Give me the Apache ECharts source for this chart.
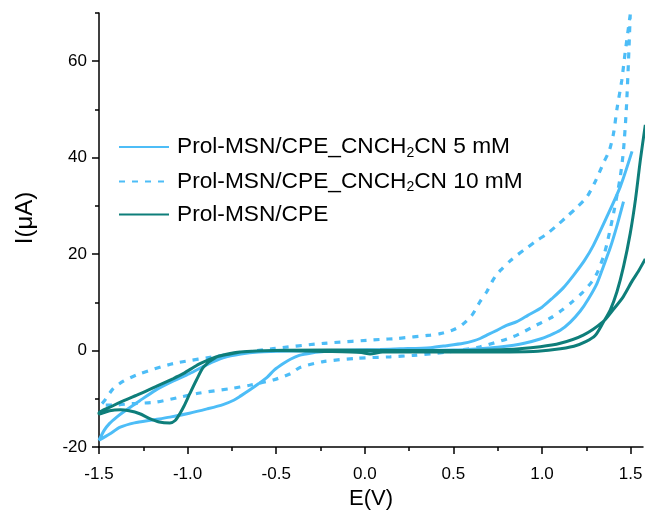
<!DOCTYPE html>
<html>
<head>
<meta charset="utf-8">
<script src="https://cdn.jsdelivr.net/npm/echarts@6/dist/echarts.min.js"></script>
<style>html,body{margin:0;padding:0;background:#fff}#c{width:648px;height:516px}</style>
</head>
<body>
<div id="c"></div>
<script>
// Series names
const seriesNames = ['Prol-MSN/CPE_CNCH2CN 5 mM', 'Prol-MSN/CPE_CNCH2CN 10 mM', 'Prol-MSN/CPE'];

// Tick labels
const xTicks = [-1.5, -1.0, -0.5, 0.0, 0.5, 1.0, 1.5];
const xMinorTicks = [-1.25, -0.75, -0.25, 0.25, 0.75, 1.25];
const yTicks = [-20, 0, 20, 40, 60];
const yMinorTicks = [-10, 10, 30, 50, 70];

// CV curves: [E (V), I (uA)]
const cv5mM = [
  [1.46,30.9],[1.42,25.5],[1.385,21.3],[1.347,17.5],[1.31,13.9],[1.26,10.6],[1.216,8.2],[1.16,5.9],
  [1.103,4.2],[1.04,3.1],[0.99,2.4],[0.9,1.5],[0.84,1.1],[0.75,0.7],[0.65,0.4],[0.5,0.1],[0.3,0.0],
  [0.1,-0.1],[-0.1,-0.15],[-0.23,-0.2],[-0.3,-0.5],[-0.37,-1.0],[-0.42,-1.8],[-0.46,-2.7],[-0.51,-4.0],
  [-0.55,-5.5],[-0.60,-6.9],[-0.65,-8.2],[-0.70,-9.4],[-0.74,-10.3],[-0.80,-11.2],[-0.89,-12.1],
  [-0.99,-13.0],[-1.1,-13.8],[-1.2,-14.4],[-1.30,-15.0],[-1.38,-15.9],[-1.44,-17.3],[-1.5,-18.6],
  [-1.47,-16.5],[-1.44,-15.1],[-1.40,-13.8],[-1.36,-12.7],[-1.27,-10.4],[-1.18,-8.2],[-1.08,-6.3],
  [-0.99,-4.8],[-0.89,-2.9],[-0.80,-1.5],[-0.7,-0.7],[-0.6,-0.3],[-0.4,-0.1],[-0.2,0.0],[0.086,0.2],
  [0.2,0.35],[0.37,0.6],[0.46,1.0],[0.557,1.5],[0.613,2.0],[0.651,2.5],[0.70,3.4],[0.745,4.2],
  [0.80,5.2],[0.858,6.0],[0.92,7.3],[1.0,9.0],[1.06,10.9],[1.12,13.0],[1.178,15.6],[1.24,18.7],
  [1.29,21.8],[1.367,27.8],[1.442,34.0],[1.508,41.3]
];
const cv10mM = [
  [1.498,69.7],[1.47,62.0],[1.45,56.0],[1.423,50.1],[1.404,45.1],[1.38,41.5],[1.347,38.9],[1.30,35.0],
  [1.254,31.9],[1.20,29.8],[1.141,27.8],[1.08,25.8],[1.028,24.2],[0.97,22.8],[0.915,21.3],[0.86,19.8],
  [0.82,18.6],[0.773,16.9],[0.745,15.8],[0.72,14.4],[0.69,12.3],[0.651,10.2],[0.604,7.3],[0.548,5.3],
  [0.50,4.3],[0.425,3.5],[0.37,3.2],[0.18,2.5],[0.086,2.3],[-0.23,1.5],[-0.517,0.4],[-0.80,-1.0],
  [-1.08,-2.7],[-1.27,-4.8],[-1.36,-6.3],[-1.42,-7.9],[-1.467,-10.3],[-1.49,-11.3],[-1.42,-11.3],
  [-1.31,-11.0],[-1.18,-10.7],[-1.06,-9.8],[-0.93,-8.8],[-0.76,-7.9],[-0.65,-7.2],[-0.517,-6.1],
  [-0.42,-4.8],[-0.366,-3.5],[-0.234,-2.3],[-0.046,-1.6],[0.143,-1.3],[0.274,-1.0],[0.463,-0.3],
  [0.651,0.8],[0.839,2.9],[0.97,5.3],[1.046,6.7],[1.113,8.4],[1.17,10.1],[1.225,11.9],[1.282,14.3],
  [1.31,16.0],[1.347,19.5],[1.367,22.2],[1.404,28.5],[1.442,36.1],[1.46,41.6],[1.476,50.1],[1.488,60.0],
  [1.498,69.7]
];
const cvBlank = [
  [1.583,46.8],[1.555,39.5],[1.527,31.2],[1.498,24.3],[1.46,17.4],[1.423,12.2],[1.385,8.4],[1.345,5.8],
  [1.30,3.1],[1.25,1.9],[1.18,0.9],[1.07,0.2],[0.95,-0.2],[0.7,-0.3],[0.4,-0.3],[0.1,-0.3],[0.03,-0.7],
  [-0.02,-0.4],[-0.2,-0.2],[-0.5,0.0],[-0.61,-0.1],[-0.70,-0.3],[-0.76,-0.7],[-0.84,-1.4],[-0.91,-3.4],
  [-0.95,-6.1],[-0.987,-8.9],[-1.02,-11.5],[-1.044,-13.1],[-1.07,-14.5],[-1.10,-15.0],[-1.16,-14.8],
  [-1.22,-14.0],[-1.27,-13.1],[-1.33,-12.5],[-1.38,-12.3],[-1.44,-12.5],[-1.5,-13.2],[-1.5,-12.9],
  [-1.43,-11.6],[-1.36,-10.4],[-1.27,-9.0],[-1.18,-7.5],[-1.08,-5.8],[-1.03,-4.9],[-0.98,-3.8],
  [-0.93,-2.7],[-0.84,-1.3],[-0.76,-0.6],[-0.705,-0.3],[-0.517,0.0],[-0.2,0.1],[0.2,0.0],[0.5,0.0],
  [0.8,0.2],[0.99,0.8],[1.103,1.5],[1.233,3.2],[1.345,6.0],[1.40,8.4],[1.459,11.2],[1.51,14.5],
  [1.545,16.5],[1.583,19.0]
];

const FONT = 'Liberation Sans, Arial, Helvetica, sans-serif';
const blue = '#4DBDF7';
const teal = '#0E7E7A';

const chart = echarts.init(document.getElementById('c'), null, {renderer: 'canvas'});

function legendLabel(name) {
  const m = name.match(/^(.*CNCH)2(CN.*)$/);
  if (m) return '{a|' + m[1] + '}{s|2}{a|' + m[2] + '}';
  return '{a|' + name + '}';
}

const axisLineStyle = {color: '#000', width: 1.5};
const commonX = {type: 'value', min: -1.5, max: 1.57, gridIndex: 0};
const commonY = {type: 'value', min: -20, max: 70, gridIndex: 0};

chart.setOption({
  animation: false,
  backgroundColor: '#fff',
  grid: {left: 99, right: 5, top: 13, bottom: 69, containLabel: false},
  legend: {
    orient: 'vertical',
    left: 113,
    top: 129,
    itemWidth: 50,
    itemHeight: 14,
    itemGap: 8.5,
    data: seriesNames,
    formatter: legendLabel,
    itemStyle: {opacity: 0},
    textStyle: {
      fontFamily: FONT, fontSize: 22.7, color: '#000', padding: [0, 0, 0, 3],
      rich: {
        a: {fontFamily: FONT, fontSize: 22.7, color: '#000', lineHeight: 30},
        s: {fontFamily: FONT, fontSize: 14, color: '#000', padding: [12, 0, 0, 0], lineHeight: 14}
      }
    }
  },
  xAxis: [
    Object.assign({}, commonX, {
      position: 'bottom',
      splitLine: {show: false},
      axisLine: {show: true, onZero: false, lineStyle: axisLineStyle},
      axisTick: {show: true, length: 7, lineStyle: {color: '#000', width: 1.5}, customValues: xTicks},
      axisLabel: {customValues: xTicks, fontFamily: FONT, fontSize: 17, color: '#000', margin: 19,
        formatter: v => v.toFixed(1)},
      name: 'E(V)', nameLocation: 'middle', nameGap: 41,
      nameTextStyle: {fontFamily: FONT, fontSize: 22, color: '#000'}
    }),
    Object.assign({}, commonX, {
      position: 'bottom',
      splitLine: {show: false},
      axisLine: {show: false, onZero: false},
      axisTick: {show: true, length: 4, lineStyle: {color: '#000', width: 1.5}, customValues: xMinorTicks},
      axisLabel: {show: false}
    })
  ],
  yAxis: [
    Object.assign({}, commonY, {
      position: 'left',
      splitLine: {show: false},
      axisLine: {show: true, onZero: false, lineStyle: axisLineStyle},
      axisTick: {show: true, length: 7, lineStyle: {color: '#000', width: 1.5}, customValues: yTicks},
      axisLabel: {customValues: yTicks, fontFamily: FONT, fontSize: 17, color: '#000', margin: 12},
      name: 'I(\u03bcA)', nameLocation: 'middle', nameGap: 62,
      nameTextStyle: {fontFamily: FONT, fontSize: 24, color: '#000', padding: [0, 0, 0, 24]}
    }),
    Object.assign({}, commonY, {
      position: 'left',
      splitLine: {show: false},
      axisLine: {show: false, onZero: false},
      axisTick: {show: true, length: 4, lineStyle: {color: '#000', width: 1.5}, customValues: yMinorTicks},
      axisLabel: {show: false}
    })
  ],
  series: [
    {name: seriesNames[0], type: 'line', data: cv5mM, showSymbol: false, symbol: 'none', smooth: 0.25,
      clip: true, lineStyle: {color: blue, width: 3}, itemStyle: {color: blue}},
    {name: seriesNames[1], type: 'line', data: cv10mM, showSymbol: false, symbol: 'none', smooth: 0.25,
      clip: true, lineStyle: {color: blue, width: 3.2, type: [6, 7]}, itemStyle: {color: blue}},
    {name: seriesNames[2], type: 'line', data: cvBlank, showSymbol: false, symbol: 'none', smooth: 0.25,
      clip: true, lineStyle: {color: teal, width: 3}, itemStyle: {color: teal}}
  ]
});
</script>
</body>
</html>
